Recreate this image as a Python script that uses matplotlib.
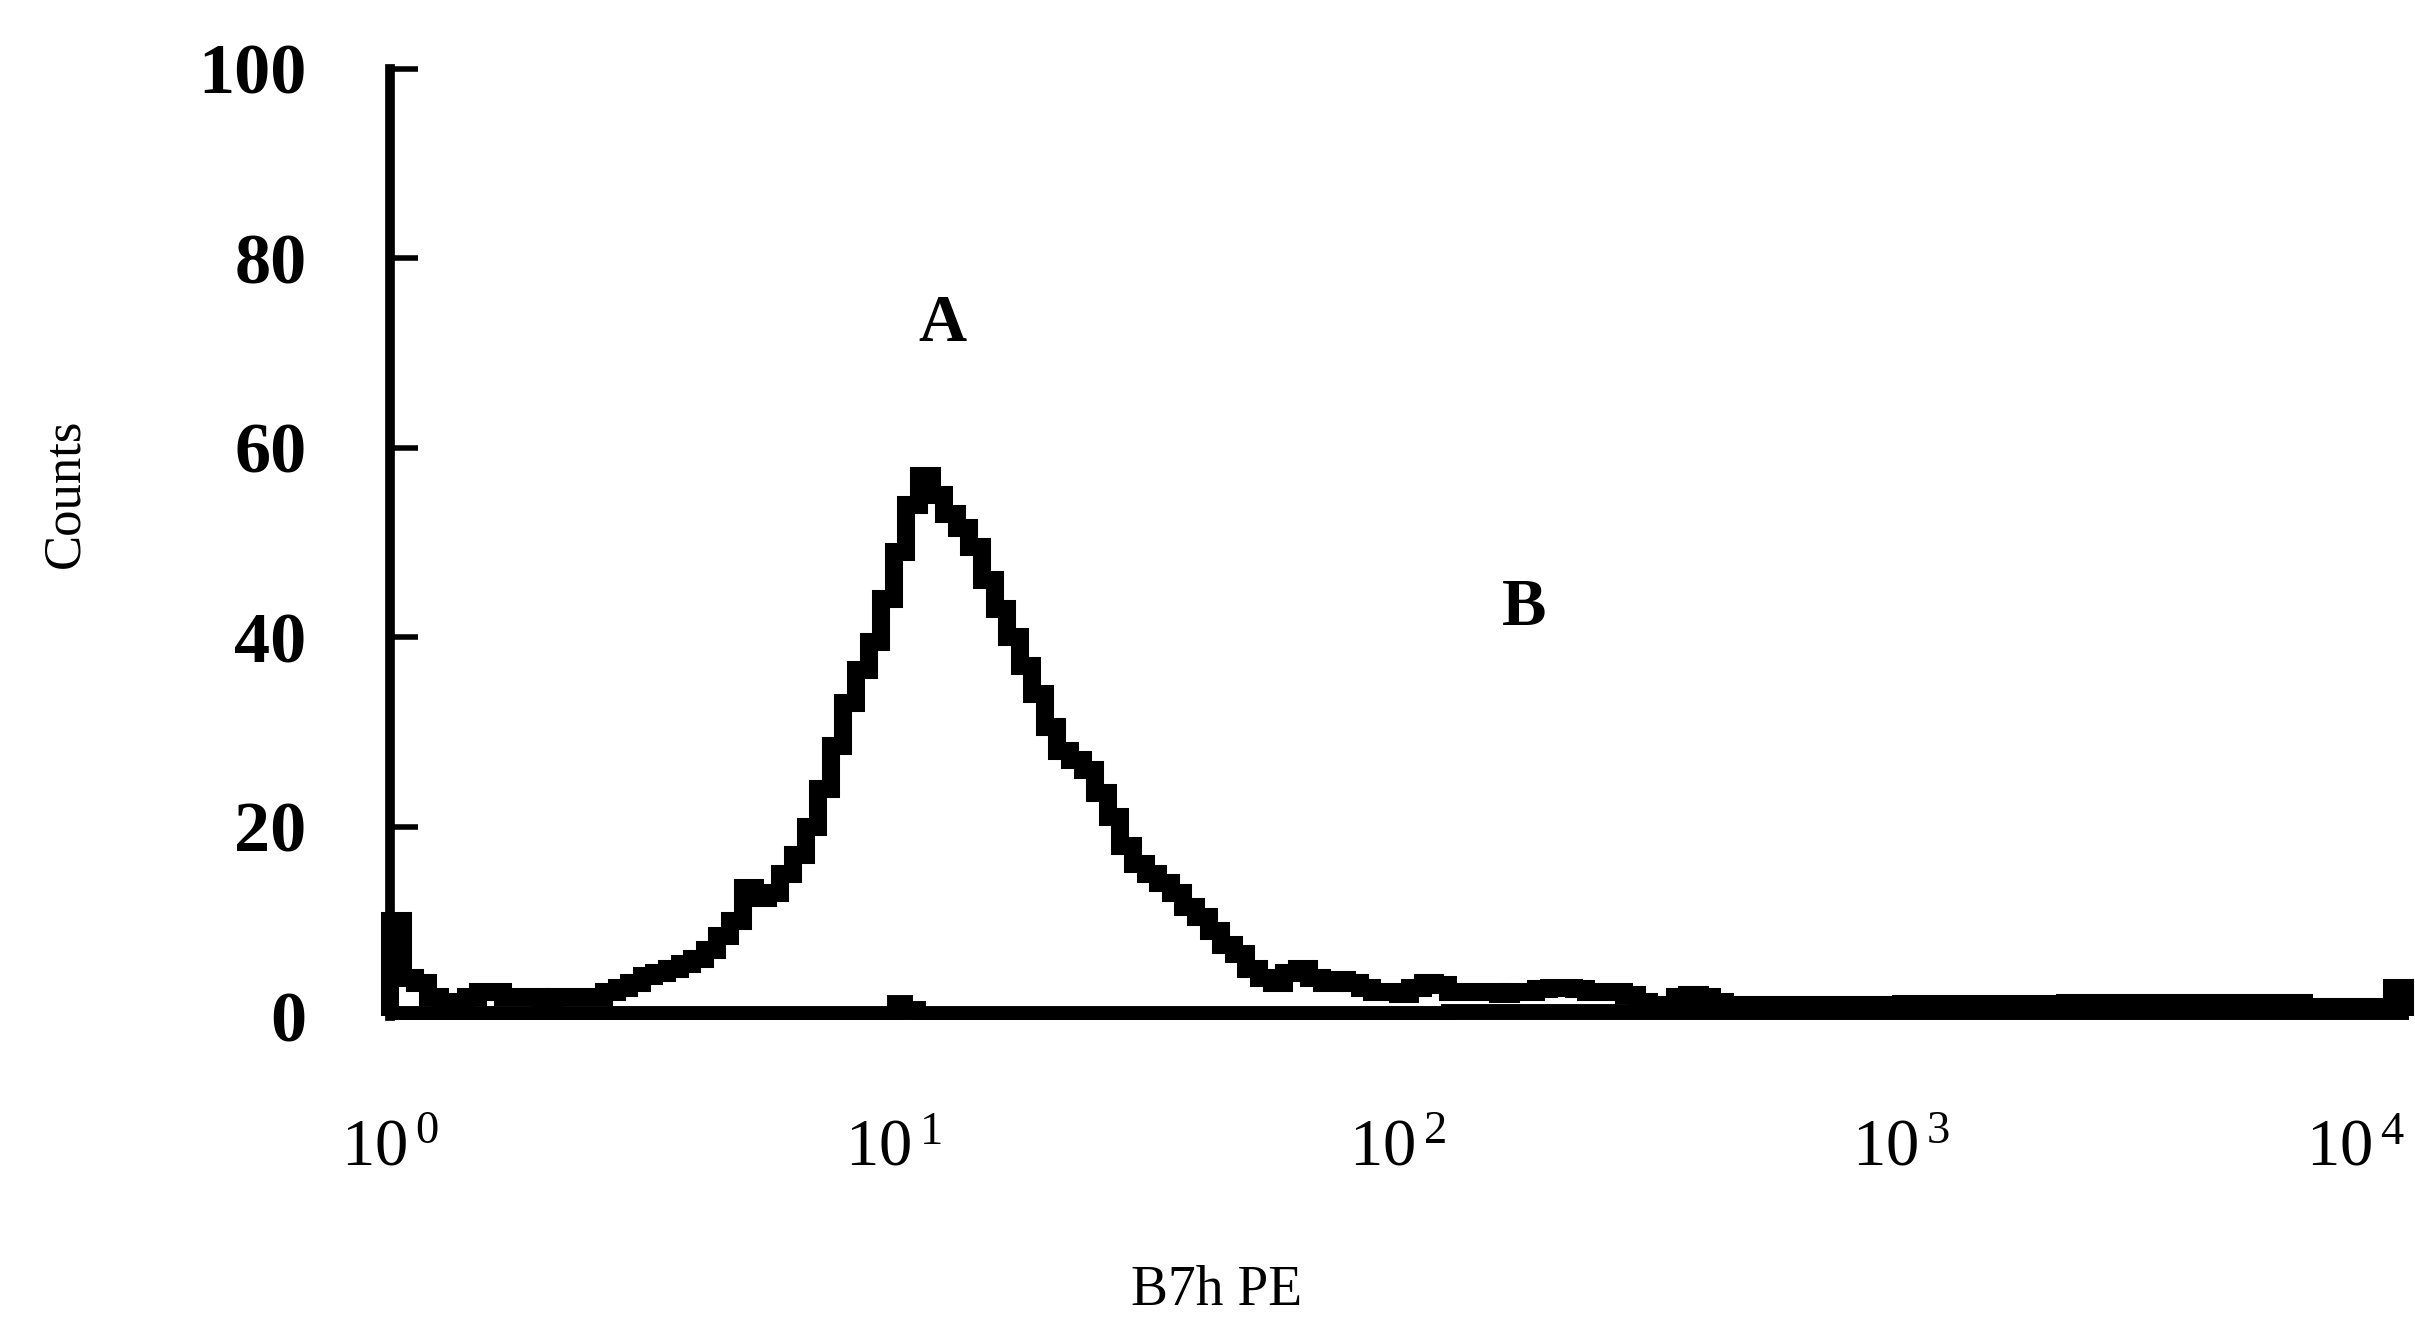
import numpy as np
import matplotlib
matplotlib.use("Agg")
import matplotlib.pyplot as plt

plt.rcParams['font.family'] = ['Liberation Serif', 'DejaVu Serif']
plt.rcParams['mathtext.default'] = 'regular'

# B7h PE histogram, 160 channels of 0.025 decade from 10^0 to 10^4
counts_a = [
    10, 4, 3.5, 2, 1.5, 1.5, 2, 2.5, 2.5, 2,
    2, 2, 1.8, 2, 2, 2, 2, 2.5, 3, 3.5,
    4.2, 4.5, 5, 5.5, 6, 7, 8.5, 10, 13.5, 12.5,
    13, 15, 17, 20, 24, 28.5, 33, 36.5, 39.5, 44,
    49, 54, 57, 55, 53, 51.5, 49.5, 46, 43, 40,
    37, 34, 30.5, 28, 27, 26, 23.5, 21, 18, 16,
    15, 14, 13, 11.5, 10.5, 9, 7.5, 6.5, 5, 4,
    3.5, 4.5, 5, 4, 3.5, 3.8, 3.5, 3, 2.5, 2.5,
    2.3, 3, 3.5, 3.3, 2.5, 2.5, 2.5, 2.5, 2.3, 2.5,
    2.5, 2.8, 3, 3, 2.8, 2.5, 2.5, 2.5, 2.2, 1.5,
    1, 1.2, 2, 2.2, 2, 1.5, 1.2, 1.2, 1.2, 1.2,
    1.2, 1.2, 1.2, 1.2, 1.2, 1.2, 1.2, 1.2, 1.2, 1.2,
    1.3, 1.3, 1.3, 1.3, 1.3, 1.3, 1.3, 1.3, 1.3, 1.3,
    1.3, 1.3, 1.3, 1.4, 1.4, 1.4, 1.4, 1.4, 1.4, 1.4,
    1.4, 1.4, 1.4, 1.4, 1.4, 1.4, 1.4, 1.4, 1.4, 1.4,
    1.4, 1.4, 0.9, 0.9, 0.9, 0.9, 0.9, 0.9, 0.9, 3,
]
counts_b = [
    0.3, 0.3, 0.3, 0.3, 0.3, 0.3, 0.3, 0.3, 0.3, 0.3,
    0.3, 0.3, 0.3, 0.3, 0.3, 0.3, 0.3, 0.3, 0.3, 0.3,
    0.3, 0.3, 0.3, 0.3, 0.3, 0.3, 0.3, 0.3, 0.3, 0.3,
    0.3, 0.3, 0.3, 0.3, 0.3, 0.3, 0.3, 0.3, 0.3, 0.3,
    1.5, 0.8, 0.3, 0.3, 0.3, 0.3, 0.3, 0.3, 0.3, 0.3,
    0.3, 0.3, 0.3, 0.3, 0.3, 0.3, 0.3, 0.3, 0.3, 0.3,
    0.3, 0.3, 0.3, 0.3, 0.3, 0.3, 0.3, 0.3, 0.3, 0.3,
    0.3, 0.3, 0.3, 0.3, 0.3, 0.3, 0.3, 0.3, 0.3, 0.3,
    0.3, 0.3, 0.3, 0.3, 0.5, 0.5, 0.5, 0.5, 0.5, 0.5,
    0.5, 0.5, 0.5, 0.5, 0.5, 0.5, 0.5, 0.5, 0.5, 0.5,
    0.5, 0.5, 0.5, 0.5, 0.5, 0.5, 0.5, 0.5, 0.5, 0.5,
    0.5, 0.5, 0.5, 0.5, 0.5, 0.5, 0.5, 0.5, 0.5, 0.5,
    0.5, 0.5, 0.5, 0.5, 0.5, 0.5, 0.5, 0.5, 0.5, 0.5,
    0.5, 0.5, 0.5, 0.5, 0.5, 0.5, 0.5, 0.5, 0.5, 0.5,
    0.5, 0.5, 0.5, 0.5, 0.5, 0.5, 0.5, 0.5, 0.5, 0.5,
    0.5, 0.5, 0.5, 0.5, 0.5, 0.5, 0.5, 0.5, 0.5, 0.5,
]
decades = [0, 1, 2, 3, 4]
y_ticks = [0, 20, 40, 60, 80, 100]
labels = [("A", 12.5, 73), ("B", 178, 43)]

edges = np.logspace(0, 4, len(counts_a) + 1)

fig = plt.figure(figsize=(24.15, 13.29), dpi=100)
ax = fig.add_axes([390 / 2415, 1 - 1016 / 1329, 2015 / 2415, 947 / 1329])

ax.stairs(counts_b, edges, color='black', linewidth=10, clip_on=False)
ax.stairs(counts_a, edges, color='black', linewidth=13, clip_on=False)

ax.set_xscale('log')
ax.set_xlim(1, 1e4)
ax.set_ylim(0, 100)

for name, xv, yv in labels:
    ax.text(xv, yv, name, ha='center', va='center', fontsize=48, fontweight='bold')

ax.set_xticks([10 ** d for d in decades])
ax.set_xticklabels([r'$10^{\,%d}$' % d for d in decades], fontsize=48)
ax.xaxis.set_minor_locator(matplotlib.ticker.NullLocator())
ax.tick_params(axis='x', length=0, pad=74)
# last label sits against the right edge, as in the scan
ax.get_xticklabels()[-1].set_horizontalalignment('right')

ax.set_yticks(y_ticks)
ax.set_yticklabels([str(v) for v in y_ticks], fontsize=52, fontweight='bold')
ax.tick_params(axis='y', direction='in', length=20, width=4, pad=60)

for side in ['top', 'right']:
    ax.spines[side].set_visible(False)
ax.spines['left'].set_linewidth(7)
ax.spines['bottom'].set_linewidth(5)

ax.set_xlabel('B7h PE', fontsize=40, va='center')
ax.xaxis.set_label_coords(0.41, -0.29)
ax.set_ylabel('Counts', fontsize=38, va='center')
ax.yaxis.set_label_coords(-0.161, 0.552)

fig.savefig('out.png', dpi=100)
